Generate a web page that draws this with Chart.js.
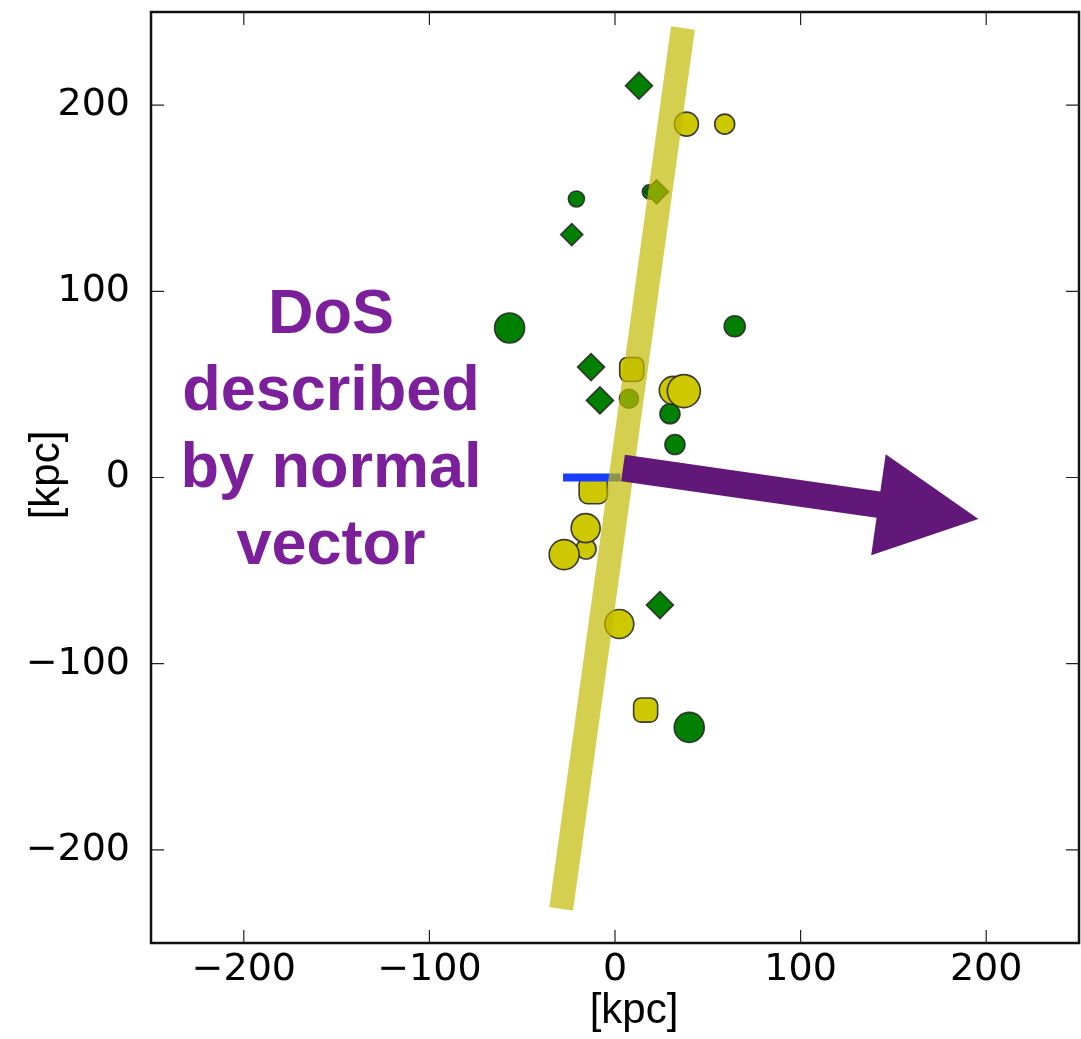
<!DOCTYPE html>
<html><head><meta charset="utf-8">
<script src="https://cdn.jsdelivr.net/npm/chart.js@4/dist/chart.umd.min.js"></script>
<style>html,body{margin:0;padding:0;background:#fff;}#wrap{width:1081px;height:1039px;}</style>
</head><body><div id="wrap"><canvas id="c" width="1081" height="1039"></canvas></div>
<script>
// ---- data ----
const tickValues = [-200, -100, 0, 100, 200];
const axisRange = [-250, 250];
const axisTitle = '[kpc]';
const annotationLines = ['DoS', 'described', 'by normal', 'vector'];
const annotationAnchor = [-153, 77.5];

const greenCircleX = [-20.8, 18.5, -56.8, 64.5, 29.6, 32.3, 7.5, 40.0];
const greenCircleY = [149.6, 153.4, 80.3, 81.2, 34.2, 17.7, 42.3, -134.2];
const greenCircleSize = [8, 7, 15, 10.5, 10, 10, 9.5, 15];

const greenDiamondX = [12.9, 22.4, -23.3, -12.9, -8.1, 24.2];
const greenDiamondY = [210.4, 153.4, 130.5, 59.3, 41.4, -68.5];
const greenDiamondSize = [13.5, 12, 11, 13.5, 13.5, 13.5];

const yellowCircleX = [38.5, 59.1, 31.4, 37.1, -15.6, -15.8, -27.4, 2.3];
const yellowCircleY = [189.8, 189.8, 46.8, 46.4, -38.4, -27.2, -41.4, -78.7];
const yellowCircleSize = [12, 10, 14, 16.5, 10, 14.5, 15, 14.5];

const yellowSquareX = [9.0, -11.7, 16.5];
const yellowSquareY = [58.0, -6.5, -124.9];
const yellowSquareSize = [14, 16.5, 14];

const planeX = [-29.0, 36.6];
const planeY = [-231.7, 241.4];

const projNormalX = [-28, 3];
const projNormalY = [0, 0];

const normalArrowX = [4.3, 195.8];
const normalArrowY = [5.1, -22.3];

// ---- helpers ----
const pts = (xs, ys) => xs.map((v, i) => ({x: v, y: ys[i]}));
const fmt = v => (v < 0 ? '\u2212' + Math.abs(v) : String(v));
const GREEN = '#008000', YELLOW = '#CDC800', EDGE = 'rgba(40,40,40,0.9)';

const overlay = {
  id: 'overlay',
  afterDatasetsDraw(chart) {
    const {ctx, scales: {x, y}} = chart;
    // normal vector arrow
    const x0 = x.getPixelForValue(normalArrowX[0]), y0 = y.getPixelForValue(normalArrowY[0]);
    const x1 = x.getPixelForValue(normalArrowX[1]), y1 = y.getPixelForValue(normalArrowY[1]);
    const dx = x1 - x0, dy = y1 - y0, L = Math.hypot(dx, dy);
    const ux = dx / L, uy = dy / L, nx = -uy, ny = ux;
    const sw = 13.3, hl = 101, hw = 51;
    const bx = x1 - ux * hl, by = y1 - uy * hl;
    ctx.save();
    ctx.fillStyle = '#621878';
    ctx.beginPath();
    ctx.moveTo(x0 + nx * sw, y0 + ny * sw);
    ctx.lineTo(bx + nx * sw, by + ny * sw);
    ctx.lineTo(bx + nx * hw, by + ny * hw);
    ctx.lineTo(x1, y1);
    ctx.lineTo(bx - nx * hw, by - ny * hw);
    ctx.lineTo(bx - nx * sw, by - ny * sw);
    ctx.lineTo(x0 - nx * sw, y0 - ny * sw);
    ctx.closePath();
    ctx.fill();
    // annotation text
    ctx.fillStyle = '#7B1F9B';
    ctx.font = 'bold 63px "Liberation Sans", Arial, sans-serif';
    ctx.textAlign = 'center';
    ctx.textBaseline = 'alphabetic';
    const tx = x.getPixelForValue(annotationAnchor[0]);
    const ty = y.getPixelForValue(annotationAnchor[1]);
    annotationLines.forEach((s, i) => ctx.fillText(s, tx, ty + i * 77));
    ctx.restore();
  },
  afterDraw(chart) {
    const {ctx, chartArea: a, scales: {x, y}} = chart;
    ctx.save();
    // inward ticks on all sides
    ctx.strokeStyle = '#222';
    ctx.lineWidth = 1.2;
    ctx.beginPath();
    tickValues.forEach(v => {
      const px = x.getPixelForValue(v);
      ctx.moveTo(px, a.bottom); ctx.lineTo(px, a.bottom - 13);
      ctx.moveTo(px, a.top); ctx.lineTo(px, a.top + 13);
      const py = y.getPixelForValue(v);
      ctx.moveTo(a.left, py); ctx.lineTo(a.left + 13, py);
      ctx.moveTo(a.right, py); ctx.lineTo(a.right - 13, py);
    });
    ctx.stroke();
    // frame
    ctx.strokeStyle = '#111';
    ctx.lineWidth = 2.5;
    ctx.strokeRect(a.left, a.top, a.right - a.left, a.bottom - a.top);
    // axis titles
    ctx.fillStyle = '#000';
    ctx.font = '42px "Liberation Sans", Arial, sans-serif';
    ctx.textAlign = 'center';
    ctx.textBaseline = 'alphabetic';
    ctx.fillText(axisTitle, 634, 1023);
    ctx.translate(59, 475);
    ctx.rotate(-Math.PI / 2);
    ctx.fillText(axisTitle, 0, 0);
    ctx.restore();
  }
};

const tickFont = {family: '"DejaVu Sans", sans-serif', size: 38};
const noPad = s => { s.paddingLeft = 0; s.paddingRight = 0; s.paddingTop = 0; s.paddingBottom = 0; };

new Chart(document.getElementById('c'), {
  type: 'scatter',
  data: {
    datasets: [
      {label: 'plane', data: pts(planeX, planeY), showLine: true, borderColor: 'rgba(194,186,0,0.69)',
       borderWidth: 24, borderCapStyle: 'butt', pointRadius: 0, order: 0, clip: false},
      {label: 'projected normal', data: pts(projNormalX, projNormalY), showLine: true, borderColor: '#1a3cff',
       borderWidth: 8, borderCapStyle: 'butt', pointRadius: 0, order: 1},
      {label: 'yellow squares', data: pts(yellowSquareX, yellowSquareY), pointStyle: 'rectRounded',
       pointRadius: yellowSquareSize, backgroundColor: YELLOW, borderColor: EDGE, borderWidth: 1.6, order: 2},
      {label: 'yellow circles', data: pts(yellowCircleX, yellowCircleY), pointStyle: 'circle',
       pointRadius: yellowCircleSize, backgroundColor: YELLOW, borderColor: EDGE, borderWidth: 1.6, order: 3},
      {label: 'green diamonds', data: pts(greenDiamondX, greenDiamondY), pointStyle: 'rectRot',
       pointRadius: greenDiamondSize, backgroundColor: GREEN, borderColor: EDGE, borderWidth: 1.6, order: 4},
      {label: 'green circles', data: pts(greenCircleX, greenCircleY), pointStyle: 'circle',
       pointRadius: greenCircleSize, backgroundColor: GREEN, borderColor: EDGE, borderWidth: 1.6, order: 5}
    ]
  },
  options: {
    responsive: false,
    animation: false,
    events: [],
    layout: {autoPadding: false, padding: {top: 12, right: 2, left: 0, bottom: 0}},
    plugins: {legend: {display: false}, tooltip: {enabled: false}},
    scales: {
      x: {
        type: 'linear', min: axisRange[0], max: axisRange[1],
        grid: {display: false, drawTicks: false}, border: {display: false},
        afterBuildTicks: s => { s.ticks = tickValues.map(v => ({value: v})); },
        afterFit: s => { s.height = 96; noPad(s); },
        ticks: {padding: 4, font: tickFont, color: '#000', maxRotation: 0, autoSkip: false, callback: v => fmt(v)}
      },
      y: {
        type: 'linear', min: axisRange[0], max: axisRange[1],
        grid: {display: false, drawTicks: false}, border: {display: false},
        afterBuildTicks: s => { s.ticks = tickValues.map(v => ({value: v})); },
        afterFit: s => { s.width = 151; noPad(s); },
        ticks: {padding: 21, font: tickFont, color: '#000', autoSkip: false, callback: v => fmt(v)}
      }
    }
  },
  plugins: [overlay]
});
</script>
</body></html>
